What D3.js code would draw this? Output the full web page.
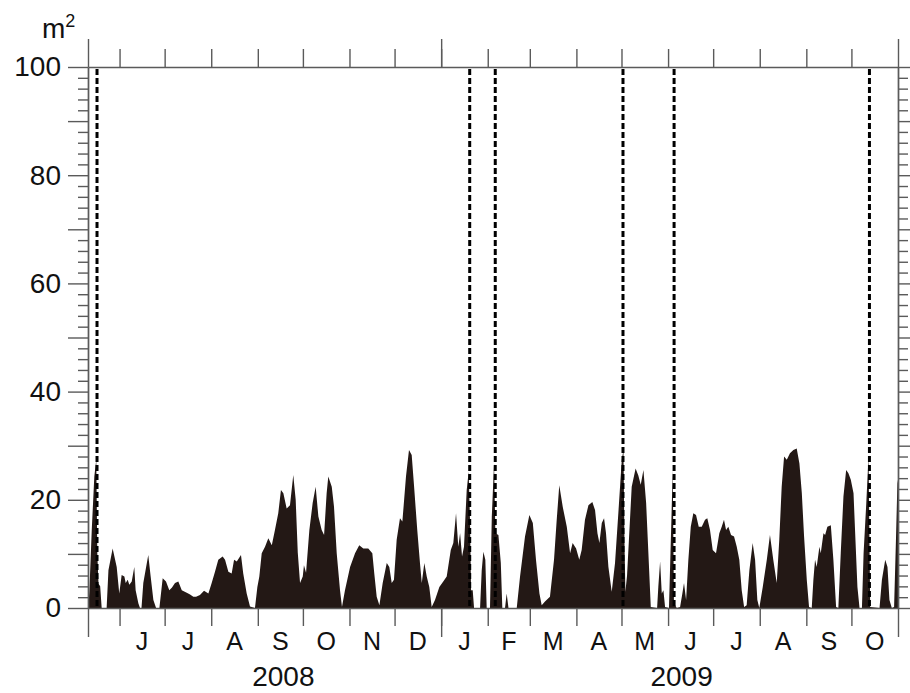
<!DOCTYPE html>
<meta charset="utf-8">
<style>
body { margin: 0; background: #fff; }
svg text { font-family: "Liberation Sans", Arial, Helvetica, sans-serif; fill: #111; }
.axis line, .axis path { stroke: #5a5a5a; stroke-width: 1.4; }
</style>
<svg id="chart"></svg>
<script src="https://d3js.org/d3.v7.min.js"></script>
<script>

// day number since 11 May 2008 and area (m2)
var recordDay = [0.2, 0.9, 2.5, 4.2, 5.5, 6.2, 7.0, 8.1, 9.1, 12.4,
  13.6, 16.4, 19.1, 20.8, 22.4, 24.2, 25.1, 26.4, 27.5, 29.1,
  30.8, 31.7, 33.5, 34.6, 35.6, 36.8, 40.1, 41.7, 43.5, 45.3,
  47.5, 49.7, 51.9, 54.1, 55.9, 57.9, 60.1, 62.4, 65.7, 67.9,
  70.1, 71.9, 74.5, 77.2, 80.1, 82.3, 84.5, 86.7, 89.6, 91.2,
  93.4, 95.6, 97.2, 99.0, 101.8, 103.3, 105.6, 107.8, 111.1, 112.7,
  114.0, 115.6, 117.8, 120.0, 122.3, 124.4, 126.6, 128.4, 130.0, 132.2,
  134.4, 136.6, 138.2, 139.6, 141.1, 142.9, 143.7, 145.1, 147.3, 149.5,
  151.5, 153.3, 155.5, 157.1, 158.8, 159.9, 162.2, 163.7, 165.5, 167.7,
  169.0, 171.0, 174.4, 177.7, 180.5, 183.2, 186.5, 189.2, 190.5, 192.1,
  193.9, 196.1, 198.8, 200.5, 202.1, 203.6, 205.4, 207.6, 209.2, 211.6,
  213.6, 215.4, 217.0, 219.1, 220.9, 222.1, 223.8, 225.4, 227.1, 228.7,
  230.9, 233.8, 236.4, 238.7, 241.4, 243.1, 244.9, 246.4, 247.6, 248.9,
  250.2, 252.0, 253.3, 254.2, 254.9, 256.0, 256.9, 260.9, 262.0, 263.1,
  264.4, 265.3, 267.5, 268.7, 270.2, 271.1, 273.1, 274.7, 275.7, 277.5,
  278.6, 279.8, 285.3, 287.5, 290.8, 293.7, 296.0, 298.1, 300.4, 301.9,
  304.1, 307.4, 310.1, 311.9, 313.6, 315.9, 318.6, 320.8, 322.5, 324.8,
  326.9, 328.5, 330.7, 333.0, 335.6, 337.4, 339.0, 340.3, 341.9, 343.4,
  344.7, 346.3, 348.5, 350.7, 352.9, 355.2, 356.3, 357.0, 357.6, 358.7,
  361.8, 364.4, 366.2, 367.8, 369.6, 371.4, 372.9, 374.5, 378.7, 379.5,
  380.7, 381.8, 382.9, 384.0, 386.6, 387.6, 389.1, 389.9, 391.8, 394.0,
  395.5, 396.6, 398.0, 399.5, 401.1, 402.8, 404.6, 406.4, 408.4, 410.6,
  412.1, 413.9, 415.7, 417.9, 420.1, 421.7, 423.2, 424.6, 426.1, 427.9,
  429.9, 431.7, 433.4, 435.0, 436.6, 438.3, 440.1, 442.3, 443.9, 445.4,
  446.7, 449.0, 451.7, 453.8, 456.0, 458.3, 460.0, 461.6, 463.2, 465.0,
  467.1, 469.4, 471.6, 473.4, 475.0, 476.5, 478.3, 479.8, 481.6, 482.7,
  483.8, 484.9, 486.7, 487.6, 489.4, 490.5, 492.0, 494.3, 496.0, 497.8,
  499.3, 500.9, 502.7, 504.5, 506.0, 507.6, 509.4, 510.5, 512.0, 513.4,
  515.0, 516.1, 517.9, 519.4, 520.5, 526.7, 528.3, 530.5, 532.0, 533.3,
  534.9, 536.4, 537.7, 538.6, 539.0];

var areaM2 = [0, 3, 14.4, 24.3, 27.4, 10, 4.5, 4.0, 0, 0,
  7, 11, 7.6, 2.7, 6.1, 5.8, 4.6, 5.2, 4.3, 4.9,
  7.6, 3.3, 0.9, 0, 0, 4.6, 9.8, 5.8, 1.5, 0,
  0, 5.5, 4.9, 3.3, 3.8, 4.6, 4.9, 3.3, 2.8, 2.5,
  2.1, 2.1, 2.4, 3.2, 2.7, 4.6, 6.7, 8.9, 9.5, 8.9,
  6.7, 6.4, 8.9, 8.6, 9.8, 6.4, 2.7, 0.3, 0, 3.9,
  5.8, 10.1, 11.3, 12.9, 11.6, 14.4, 17.5, 21.8, 21.2, 18.4,
  19, 24.6, 20, 10.2, 4.6, 5.8, 7.9, 6.5, 14.4, 19.4,
  22.4, 16.9, 14.4, 13.5, 21.2, 24.3, 22.4, 18.7, 10.1, 3.3,
  0.2, 3.3, 7.6, 10.1, 11.6, 11, 11, 10.1, 6.4, 2.1,
  0.5, 4.6, 8.3, 7.6, 4.6, 5.2, 12.6, 16.6, 16, 24.3,
  29.2, 28.3, 22.4, 14.4, 8.3, 4.6, 8.3, 5.8, 3.9, 0.2,
  1.5, 3.9, 4.9, 5.8, 10.7, 12, 17.5, 11.3, 13.8, 9.5,
  11.3, 21.8, 25.2, 16.3, 3.3, 3.3, 0, 0, 7, 10.4,
  8.9, 0, 0, 16.9, 26.7, 13.8, 13.5, 8.3, 0, 0,
  2.7, 0, 0, 5.8, 13.2, 17.2, 15.7, 8.9, 2.7, 0.5,
  1.2, 2.1, 8.9, 16.3, 22.7, 18.7, 15, 10.1, 12, 11,
  8.9, 10.7, 16.3, 19, 19.6, 18.1, 13.8, 12, 15.7, 16.6,
  13.8, 7.6, 3, 8.3, 17.5, 27.4, 29.2, 12, 3, 6,
  22.4, 25.8, 24.5, 22.8, 25.5, 19.4, 10.1, 0.2, 0, 3.9,
  8.6, 2.7, 3.3, 0.2, 0, 10.1, 25.5, 0.9, 0, 0.2,
  2.7, 4.6, 1.5, 8.9, 15, 17.5, 17.2, 15, 15, 16.3,
  16.6, 14.4, 10.7, 10.1, 13.8, 15, 16.3, 14.4, 15, 13.5,
  13.2, 11.3, 8.9, 3.3, 0.2, 0.5, 7, 12, 8.9, 1.5,
  0, 3.9, 8.9, 13.5, 8.9, 4.6, 12.6, 22.4, 28, 27.4,
  28.6, 29.2, 29.5, 26.7, 21.2, 13.2, 5.2, 0.2, 0, 5.2,
  8.9, 7.6, 11.3, 10.1, 13.8, 13.5, 15, 15.3, 8.9, 0.2,
  0, 10.1, 20.6, 25.5, 24.9, 23.7, 21.2, 13.8, 3.9, 0,
  0, 10.1, 19.4, 28, 0.2, 0, 5.2, 8.9, 7.6, 1.5,
  0, 0.2, 13.2, 23, 23.7];

var monthLabels = ["J", "J", "A", "S", "O", "N", "D", "J", "F", "M", "A", "M", "J", "J", "A", "S", "O"];
var yearLabels = ["2008", "2009"];
var yearLabelDates = ["2008-09-18", "2009-06-10"];
var dashedDates = ["2008-05-17", "2009-01-20", "2009-02-06", "2009-05-02", "2009-06-05", "2009-10-13"];
var yLabelTicks = [0, 20, 40, 60, 80, 100];

var width = 910,
    height = 693;

var svg = d3.select("#chart")
    .attr("width", width)
    .attr("height", height);

var parse = d3.utcParse("%Y-%m-%d");
var start = parse("2008-05-11"),
    end = parse("2009-11-01");

var x = d3.scaleUtc().domain([start, end]).range([88, 898]);
var y = d3.scaleLinear().domain([0, 100]).range([608, 67]);

var data = recordDay.map(function(d, i) {
  return { date: new Date(start.getTime() + d * 864e5), value: areaM2[i] };
});

// filled area
var area = d3.area()
    .x(function(d) { return x(d.date); })
    .y0(y(0))
    .y1(function(d) { return y(d.value); });

svg.append("path")
    .datum(data)
    .attr("fill", "#231815")
    .attr("d", area);

// dashed event lines
svg.selectAll(".event")
    .data(dashedDates)
    .enter().append("line")
    .attr("class", "event")
    .attr("x1", function(d) { return x(parse(d)); })
    .attr("x2", function(d) { return x(parse(d)); })
    .attr("y1", y(100) + 2)
    .attr("y2", y(0))
    .attr("stroke", "#000")
    .attr("stroke-width", 3)
    .attr("stroke-dasharray", "6,3");

// month ticks
var months = d3.utcMonth.range(d3.utcMonth.ceil(start), end);
var bounds = [start, parse("2009-01-01"), end];

function noLabel() { return ""; }

svg.append("g").attr("class", "axis")
    .attr("transform", "translate(0," + y(0) + ")")
    .call(d3.axisBottom(x).tickValues(months).tickSize(18).tickSizeOuter(0).tickFormat(noLabel));
svg.append("g").attr("class", "axis")
    .attr("transform", "translate(0," + y(0) + ")")
    .call(d3.axisBottom(x).tickValues(bounds).tickSize(29).tickSizeOuter(0).tickFormat(noLabel))
    .select(".domain").remove();

svg.append("g").attr("class", "axis")
    .attr("transform", "translate(0," + y(100) + ")")
    .call(d3.axisTop(x).tickValues(months).tickSize(18).tickSizeOuter(0).tickFormat(noLabel));
svg.append("g").attr("class", "axis")
    .attr("transform", "translate(0," + y(100) + ")")
    .call(d3.axisTop(x).tickValues(bounds).tickSize(28).tickSizeOuter(0).tickFormat(noLabel))
    .select(".domain").remove();

// month letters, centred in each month
svg.selectAll(".month")
    .data(months.slice(0, monthLabels.length))
    .enter().append("text")
    .attr("class", "month")
    .attr("x", function(d) { return x(new Date((d.getTime() + d3.utcMonth.offset(d, 1).getTime()) / 2)); })
    .attr("y", 650)
    .attr("text-anchor", "middle")
    .style("font-size", "25px")
    .text(function(d, i) { return monthLabels[i]; });

svg.selectAll(".year")
    .data(yearLabels)
    .enter().append("text")
    .attr("class", "year")
    .attr("x", function(d, i) { return x(parse(yearLabelDates[i])); })
    .attr("y", 686)
    .attr("text-anchor", "middle")
    .style("font-size", "28px")
    .text(function(d) { return d; });

// y axes
var yMinor = d3.range(0, 101, 2).filter(function(v) { return v % 10 !== 0; });
var yMajor = d3.range(0, 101, 10);

svg.append("g").attr("class", "axis")
    .attr("transform", "translate(" + x(start) + ",0)")
    .call(d3.axisLeft(y).tickValues(yMinor).tickSize(10).tickSizeOuter(0).tickFormat(noLabel));
svg.append("g").attr("class", "axis ylab")
    .attr("transform", "translate(" + x(start) + ",0)")
    .call(d3.axisLeft(y).tickValues(yMajor).tickSize(20).tickSizeOuter(0).tickPadding(7)
      .tickFormat(function(v) { return yLabelTicks.indexOf(v) >= 0 ? v : ""; }))
    .selectAll("text")
    .style("font-size", "28px")
    .attr("fill", "#111");

svg.append("g").attr("class", "axis")
    .attr("transform", "translate(" + x(end) + ",0)")
    .call(d3.axisRight(y).tickValues(yMinor).tickSize(10).tickSizeOuter(0).tickFormat(noLabel));
svg.append("g").attr("class", "axis")
    .attr("transform", "translate(" + x(end) + ",0)")
    .call(d3.axisRight(y).tickValues(yMajor).tickSize(20).tickSizeOuter(0).tickFormat(noLabel));

// unit label
var unit = svg.append("text")
    .attr("x", 42)
    .attr("y", 38)
    .style("font-size", "28px")
    .text("m");
unit.append("tspan")
    .attr("dy", -11)
    .style("font-size", "18px")
    .text("2");

</script>
